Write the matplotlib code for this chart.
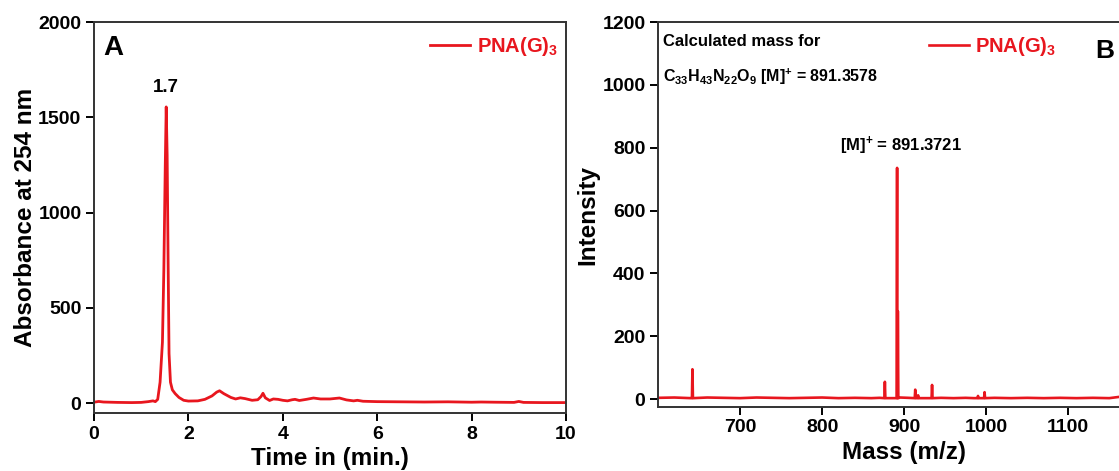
import matplotlib
matplotlib.use("Agg")
import matplotlib.pyplot as plt
import numpy as np

plt.rcParams["font.family"] = ["Liberation Sans", "DejaVu Sans"]
plt.rcParams["font.weight"] = "bold"
plt.rcParams["mathtext.fontset"] = "custom"
plt.rcParams["mathtext.rm"] = "Liberation Sans:bold"
plt.rcParams["mathtext.it"] = "Liberation Sans:bold"
plt.rcParams["mathtext.bf"] = "Liberation Sans:bold"

RED = "#e8161e"

# HPLC chromatogram (absorbance at 254 nm)
hplc_time = [0.0, 0.1, 0.2, 0.35, 0.5, 0.8, 1.0, 1.15, 1.25, 1.3, 1.35, 1.4, 1.45,
             1.48, 1.51, 1.53, 1.55, 1.57, 1.59, 1.62, 1.66, 1.72, 1.8, 1.9, 2.0,
             2.2, 2.35, 2.5, 2.6, 2.66, 2.75, 2.9, 3.0, 3.1, 3.2, 3.35, 3.47, 3.54,
             3.58, 3.63, 3.72, 3.8, 3.9, 4.0, 4.1, 4.2, 4.26, 4.35, 4.5, 4.65, 4.8,
             5.0, 5.2, 5.35, 5.5, 5.58, 5.7, 6.0, 6.5, 7.0, 7.5, 8.0, 8.2, 8.5, 8.9,
             9.0, 9.1, 9.5, 10.0]
hplc_abs = [5, 9, 6, 5, 4, 3, 4, 8, 12, 8, 20, 110, 320,
            700, 1250, 1555, 1300, 750, 260, 110, 70, 50, 30, 15, 11,
            12, 20, 38, 58, 65, 50, 30, 22, 28, 24, 15, 18, 35,
            52, 28, 14, 22, 20, 15, 12, 18, 20, 14, 20, 27, 22,
            22, 27, 17, 12, 15, 10, 8, 7, 6, 7, 5, 6, 5, 4,
            9, 4, 3, 3]
hplc_peak_label = "1.7"

# ESI mass spectrum: baseline and peak apices
ms_baseline_mz = [600, 620, 640, 660, 680, 700, 720, 740, 760, 780, 800, 820, 840,
                  860, 870, 880, 895, 905, 925, 945, 960, 975, 985, 1010, 1030,
                  1050, 1070, 1090, 1110, 1130, 1150, 1165, 1180, 1200]
ms_baseline_int = [4, 5, 3, 5, 4, 3, 5, 4, 3, 4, 5, 3, 4,
                   3, 4, 3, 5, 4, 3, 4, 3, 4, 3, 4, 3,
                   4, 3, 4, 3, 4, 3, 8, 3, 3]
ms_peak_mz = [642.0, 876.5, 891.4, 892.3, 913.5, 917.0, 934.0, 990.0, 998.0]
ms_peak_int = [95, 55, 736, 280, 30, 12, 45, 10, 22]

calc_mass = "891.3578"
found_mass = "891.3721"

fig = plt.figure(figsize=(11.19, 4.71), dpi=100)

# ---------------- Panel A ----------------
axA = fig.add_axes([0.084, 0.123, 0.4218, 0.830])
axA.plot(hplc_time, hplc_abs, color=RED, lw=2.0, label=r"PNA(G)$_3$")
axA.set_xlim(0, 10)
axA.set_ylim(-52, 2000)
axA.set_xticks([0, 2, 4, 6, 8, 10])
axA.set_yticks([0, 500, 1000, 1500, 2000])
axA.set_xlabel("Time in (min.)", fontsize=17.5, fontweight="bold", labelpad=3)
axA.set_ylabel("Absorbance at 254 nm", fontsize=17.5, fontweight="bold", labelpad=1)
peak_i = int(np.argmax(hplc_abs))
axA.annotate(hplc_peak_label, (hplc_time[peak_i], hplc_abs[peak_i]),
             xytext=(0, 8), textcoords="offset points", ha="center", va="bottom",
             fontsize=13.5, fontweight="bold")
axA.text(0.02, 0.968, "A", transform=axA.transAxes, fontsize=20,
         fontweight="bold", va="top", ha="left")
legA = axA.legend(loc="upper right", bbox_to_anchor=(1.01, 1.0), frameon=False,
                  fontsize=14.5, handlelength=2.0, handletextpad=0.3,
                  borderaxespad=0.25)
for t in legA.get_texts():
    t.set_color(RED)

# ---------------- Panel B ----------------
axB = fig.add_axes([0.588, 0.136, 0.440, 0.817])
mz = list(ms_baseline_mz)
inten = list(ms_baseline_int)
for m, h in zip(ms_peak_mz, ms_peak_int):
    mz += [m - 0.6, m, m + 0.6]
    inten += [3, h, 3]
order = np.argsort(mz)
mz = np.asarray(mz)[order]
inten = np.asarray(inten)[order]
axB.plot(mz, inten, color=RED, lw=1.9, label=r"PNA(G)$_3$")
axB.set_xlim(600, 1200)
axB.set_ylim(-25, 1200)
axB.set_xticks([700, 800, 900, 1000, 1100])
axB.set_yticks([0, 200, 400, 600, 800, 1000, 1200])
axB.set_xlabel("Mass (m/z)", fontsize=17.5, fontweight="bold", labelpad=3)
axB.set_ylabel("Intensity", fontsize=17.5, fontweight="bold", labelpad=2)
axB.text(0.01, 0.97, "Calculated mass for", transform=axB.transAxes,
         fontsize=12, fontweight="bold", va="top", ha="left")
axB.text(0.01, 0.885,
         r"C$_{33}$H$_{43}$N$_{22}$O$_{9}$ [M]$^{+}$ = " + calc_mass,
         transform=axB.transAxes, fontsize=11.5, fontweight="bold", va="top", ha="left")
ip = int(np.argmax(inten))
axB.annotate(r"[M]$^{+}$ = " + found_mass, (mz[ip], inten[ip]),
             xytext=(3, 8), textcoords="offset points", ha="center", va="bottom",
             fontsize=12, fontweight="bold")
axB.text(0.889, 0.955, "B", transform=axB.transAxes, fontsize=19,
         fontweight="bold", va="top", ha="left")
legB = axB.legend(loc="upper right", bbox_to_anchor=(0.835, 1.0), frameon=False,
                  fontsize=14.5, handlelength=2.0, handletextpad=0.3, borderaxespad=0.25)
for t in legB.get_texts():
    t.set_color(RED)

for ax in (axA, axB):
    for s in ax.spines.values():
        s.set_linewidth(1.4)
        s.set_color("#333333")
    ax.tick_params(axis="both", direction="out", length=6, width=1.4,
                   labelsize=14, top=False, right=False, pad=3)
    for lbl in ax.get_xticklabels() + ax.get_yticklabels():
        lbl.set_fontweight("bold")

fig.savefig("out.png", dpi=100)
